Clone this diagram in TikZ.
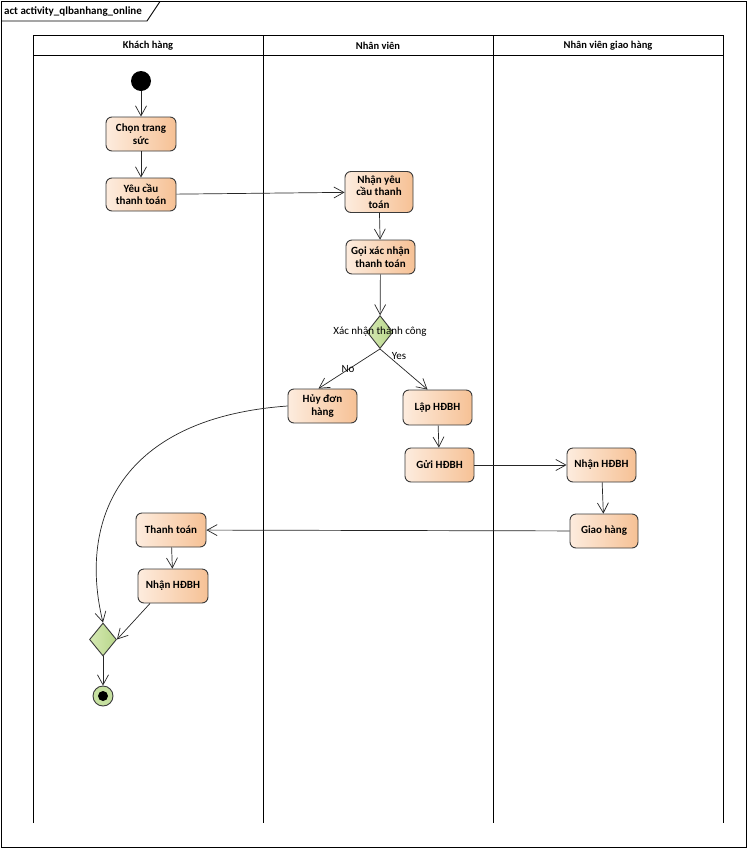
\documentclass[tikz,border=0pt]{standalone}
\usepackage{fontspec}
\setmainfont{Carlito}
\usetikzlibrary{arrows.meta,shapes.geometric}
\definecolor{actlight}{HTML}{FDECDE}
\definecolor{actdark}{HTML}{F6C195}
\definecolor{actedge}{HTML}{3A3A3A}
\definecolor{declight}{HTML}{D5E9B3}
\definecolor{decdark}{HTML}{B8D68A}
\definecolor{finfill}{HTML}{C6E0A0}
\tikzset{
  action/.style={draw=actedge, line width=0.9pt, rounded corners=6pt,
    left color=actlight, right color=actdark, minimum width=70pt,
    minimum height=34pt, align=center, inner sep=1pt,
    font=\fontsize{11}{12.5}\selectfont\bfseries},
  decision/.style={diamond, draw=actedge, line width=0.9pt, aspect=0.75,
    left color=declight, right color=decdark, minimum width=26pt,
    minimum height=33pt, inner sep=0pt},
  flow/.style={draw=black!85, line width=0.7pt,
    -{Straight Barb[length=10pt,width=11pt,line width=0.7pt]}},
  lane/.style={draw=black, line width=0.9pt},
  lanehead/.style={font=\fontsize{10.5}{12}\selectfont\bfseries},
  guard/.style={font=\fontsize{11}{12}\selectfont, inner sep=1pt}
}
\begin{document}
\begin{tikzpicture}[x=1pt,y=-1pt]
  \useasboundingbox (0,0) rectangle (748,849);
  \fill[white] (0,0) rectangle (748,849);
  % frame and its name tab
  \draw[line width=0.9pt] (1.5,1.5) rectangle (746.5,847.5);
  \draw[line width=0.9pt] (1.5,21) -- (147,21) -- (160,1.5);
  \node[anchor=west, font=\fontsize{11}{12}\selectfont\bfseries, inner sep=0pt]
    (title) at (4,11.5) {act activity\_qlbanhang\_online};
  % swimlanes
  \draw[lane] (33,823) -- (33,35) -- (723,35) -- (723,823);
  \draw[lane] (33,55) -- (723,55);
  \draw[lane] (263,35) -- (263,823);
  \draw[lane] (493,35) -- (493,823);
  \node[lanehead] (h1) at (148,45.5) {Khách hàng};
  \node[lanehead] (h2) at (378,45.5) {Nhân viên};
  \node[lanehead] (h3) at (608,45.5) {Nhân viên giao hàng};
  % nodes
  \node[circle, fill=black, minimum size=20pt, inner sep=0pt] (start) at (141,81) {};
  \node[action] (chon) at (141,134) {Chọn trang\\sức};
  \node[action, minimum height=33pt] (yeucau) at (141,194.5) {Yêu cầu\\thanh toán};
  \node[action, minimum width=68pt, minimum height=41pt] (nhanyc) at (379,192) {Nhận yêu\\cầu thanh\\toán};
  \node[action, minimum width=69pt] (goi) at (380.5,257) {Gọi xác nhận\\thanh toán};
  \node[decision] (dec) at (380,332) {};
  \node[guard] (lblxn) at (380,331.5) {Xác nhận thành công};
  \node[action, minimum width=69pt] (huy) at (322.5,406) {Hủy đơn\\hàng};
  \node[action, minimum width=69pt, minimum height=35pt] (lap) at (437.5,407.5) {Lập HĐBH};
  \node[action, minimum width=69pt] (gui) at (439.5,465) {Gửi HĐBH};
  \node[action, minimum width=69pt] (nhanr) at (601.5,465) {Nhận HĐBH};
  \node[action, minimum width=68pt] (giao) at (604,531) {Giao hàng};
  \node[action] (thanh) at (171,530) {Thanh toán};
  \node[action] (nhanl) at (173,586) {Nhận HĐBH};
  \node[decision, minimum width=27pt] (merge) at (103,639.5) {};
  \node[circle, draw=actedge, line width=0.9pt, fill=finfill, minimum size=20pt, inner sep=0pt] (fin) at (103,696) {};
  \fill[black] (fin.center) circle (5pt);
  % control flows
  \draw[flow] (start) -- (chon);
  \draw[flow] (chon) -- (yeucau);
  \draw[flow] (yeucau) -- (nhanyc);
  \draw[flow] (nhanyc) -- (goi);
  \draw[flow] (goi) -- (dec);
  \draw[flow] (dec.south) -- node[guard, pos=0.52, yshift=1pt] (lblno) {No} ([xshift=-4pt]huy.north);
  \draw[flow] (dec.south) -- node[guard, pos=0.18, anchor=west, xshift=2pt] (lblyes) {Yes} ([xshift=-10pt]lap.north);
  \draw[flow] (lap) -- (gui);
  \draw[flow] (gui) -- (nhanr);
  \draw[flow] (nhanr) -- (giao);
  \draw[flow] (giao) -- (thanh);
  \draw[flow] (thanh) -- (nhanl);
  \draw[flow] ([xshift=-23pt]nhanl.south) -- (merge.east);
  \draw[flow] (huy.west) .. controls (120,418) and (78,520) .. (merge.north);
  \draw[flow] (merge) -- (fin);
\end{tikzpicture}
\end{document}
